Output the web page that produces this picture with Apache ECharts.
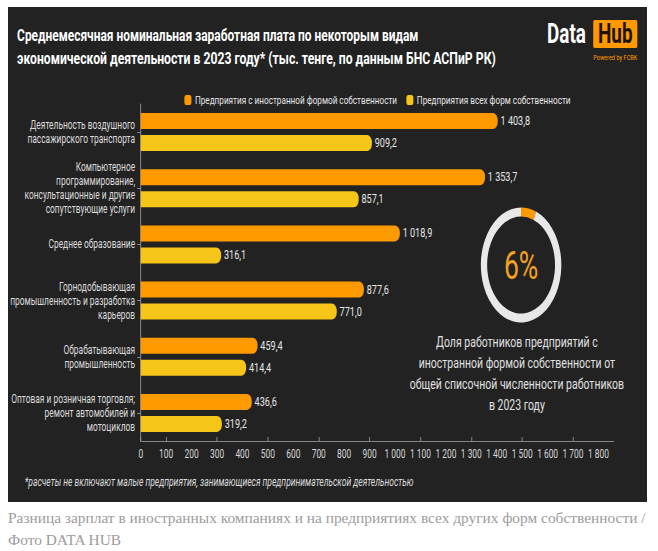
<!DOCTYPE html>
<html>
<head>
<meta charset="utf-8">
<script src="https://cdn.jsdelivr.net/npm/echarts@6/dist/echarts.min.js"></script>
<style>
  html, body { margin: 0; padding: 0; background: #ffffff; width: 658px; height: 551px; overflow: hidden; }
  #panel { position: absolute; left: 8px; top: 7px; width: 639px; height: 495px; background: #222222; overflow: hidden; }
  #chart { width: 913px; height: 495px; transform: scaleX(0.7); transform-origin: 0 0; }
  #cap { position: absolute; left: 8px; top: 507px; width: 650px; font-family: 'Liberation Serif', serif; font-size: 15.4px; line-height: 22px; color: #9c9c9c; white-space: nowrap; }
</style>
</head>
<body>
<div id="panel"><div id="chart"></div></div>
<div id="cap">Разница зарплат в иностранных компаниях и на предприятиях всех других форм собственности /<br>Фото DATA HUB</div>
<script>
const categories = [
  'Деятельность воздушного\nпассажирского транспорта',
  'Компьютерное\nпрограммирование,\nконсультационные и другие\nсопутствующие услуги',
  'Среднее образование',
  'Горнодобывающая\nпромышленность и разработка\nкарьеров',
  'Обрабатывающая\nпромышленность',
  'Оптовая и розничная торговля;\nремонт автомобилей и\nмотоциклов'
];
const seriesNames = ['Предприятия с иностранной формой собственности', 'Предприятия всех форм собственности'];
const foreignValues = [1403.8, 1353.7, 1018.9, 877.6, 459.4, 436.6];
const allValues = [909.2, 857.1, 316.1, 771.0, 414.4, 319.2];
const xTickLabels = [0, 100, 200, 300, 400, 500, 600, 700, 800, 900, 1000, 1100, 1200, 1300, 1400, 1500, 1600, 1700, 1800];
const xTickMarks = [0, 100, 300, 500, 700, 900, 1100, 1300, 1500, 1700];
const donutValues = [6, 94];
const donutLabel = '6%';

const ORANGE = '#FF9900';
const YELLOW = '#F5C518';
const FONT = 'Roboto';

function fmt(v, dec) {
  const s = dec ? Number(v).toFixed(1) : String(v);
  const parts = s.split('.');
  const i = parts[0].replace(/\B(?=(\d{3})+(?!\d))/g, ' ');
  return parts.length > 1 ? i + ',' + parts[1] : i;
}

const chart = echarts.init(document.getElementById('chart'), null, { renderer: 'svg' });

const barLabel = {
  show: true, position: 'right', distance: 4,
  color: '#e6e6e6', fontSize: 13, fontFamily: FONT,
  formatter: p => fmt(p.value, true)
};

const option = {
  backgroundColor: 'transparent',
  animation: false,
  textStyle: { fontFamily: FONT },
  legend: {
    data: seriesNames,
    left: 247, top: 82,
    itemWidth: 10, itemHeight: 10, itemGap: 13,
    icon: 'roundRect',
    textStyle: { color: '#e6e6e6', fontSize: 11.7, fontFamily: FONT }
  },
  grid: { left: 189.3, right: 47.7, top: 97, bottom: 61, containLabel: false },
  xAxis: {
    type: 'value', min: 0, max: 1860, interval: 100,
    axisLine: { show: true, lineStyle: { color: '#9a9a9a', width: 1 } },
    axisTick: { show: true, inside: true, length: 4, customValues: xTickMarks, lineStyle: { color: '#9a9a9a' } },
    splitLine: { show: false },
    axisLabel: { customValues: xTickLabels, color: '#d6d6d6', fontSize: 12, margin: 7, fontFamily: FONT, formatter: v => fmt(v, false) }
  },
  yAxis: {
    type: 'category', inverse: true, data: categories,
    axisLine: { show: true, lineStyle: { color: '#9a9a9a', width: 1 } },
    axisTick: { show: true, alignWithLabel: true, length: 5, lineStyle: { color: '#9a9a9a' } },
    axisLabel: { color: '#dcdcdc', fontSize: 12, lineHeight: 14, margin: 8, fontFamily: FONT, align: 'right' }
  },
  series: [
    {
      name: seriesNames[0], type: 'bar', data: foreignValues,
      barWidth: 16, barGap: '37.5%',
      itemStyle: { color: ORANGE, borderRadius: [0, 7, 7, 0] },
      label: barLabel
    },
    {
      name: seriesNames[1], type: 'bar', data: allValues,
      barWidth: 16, barGap: '37.5%',
      itemStyle: { color: YELLOW, borderRadius: [0, 7, 7, 0] },
      label: barLabel
    },
    {
      type: 'pie', center: [733, 258], radius: [48.5, 57.5],
      startAngle: 90, clockwise: true, silent: true,
      label: { show: false }, labelLine: { show: false },
      emphasis: { disabled: true },
      data: [
        { value: donutValues[0], itemStyle: { color: ORANGE } },
        { value: donutValues[1], itemStyle: { color: '#e8e8e8' } }
      ]
    }
  ],
  graphic: [
    { type: 'text', x: 13, y: 28.5, scaleX: 1.065, silent: true,
      style: { text: 'Среднемесячная номинальная заработная плата по некоторым видам',
        fill: '#ffffff', font: 'bold 16px Roboto', textVerticalAlign: 'middle' } },
    { type: 'text', x: 13, y: 51.5, scaleX: 1.09, silent: true,
      style: { text: 'экономической деятельности в 2023 году* (тыс. тенге, по данным БНС АСПиР РК)',
        fill: '#ffffff', font: 'bold 16px Roboto', textVerticalAlign: 'middle' } },
    { type: 'text', x: 770, y: 27, silent: true,
      style: { text: 'Data', fill: '#ffffff', font: 'bold 27px Roboto', textVerticalAlign: 'middle' } },
    { type: 'rect', shape: { x: 836, y: 13, width: 63, height: 28, r: 2 }, style: { fill: ORANGE }, silent: true },
    { type: 'text', x: 867.5, y: 27, silent: true,
      style: { text: 'Hub', fill: '#1c1208', font: 'bold 27px Roboto', textAlign: 'center', textVerticalAlign: 'middle' } },
    { type: 'text', x: 867.5, y: 51, silent: true,
      style: { text: 'Powered by FCBK', fill: ORANGE, font: '8px Roboto', textAlign: 'center', textVerticalAlign: 'middle' } },
    { type: 'text', x: 733, y: 259, silent: true,
      style: { text: donutLabel, fill: '#F4A21E', font: '38px Roboto', textAlign: 'center', textVerticalAlign: 'middle' } },
    { type: 'text', x: 727, y: 366, silent: true,
      style: { text: 'Доля работников предприятий с\nиностранной формой собственности от\nобщей списочной численности работников\nв 2023 году',
        fill: '#e0e0e0', font: '15px Roboto', lineHeight: 21, textAlign: 'center', textVerticalAlign: 'middle' } },
    { type: 'text', x: 24, y: 475, silent: true,
      style: { text: '*расчеты не включают малые предприятия, занимающиеся предпринимательской деятельностью',
        fill: '#dcdcdc', font: 'italic 12.2px Roboto', textVerticalAlign: 'middle' } }
  ]
};
chart.setOption(option);
</script>
</body>
</html>
